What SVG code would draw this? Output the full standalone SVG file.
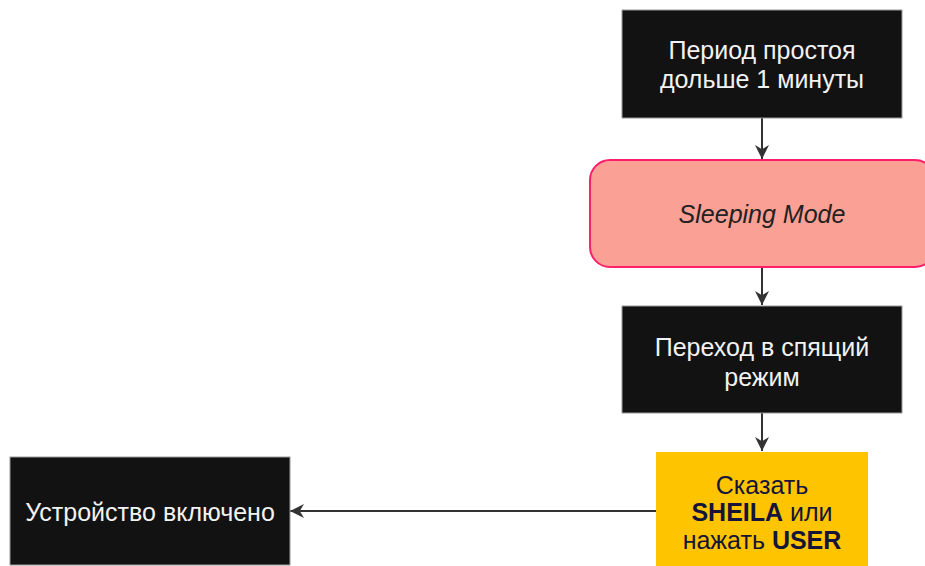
<svg xmlns="http://www.w3.org/2000/svg" width="925" height="566" viewBox="0 0 925 566">
<style>
.dark{fill:#121212;stroke:#9a9a9a;stroke-width:1}
.wt{fill:#f2f2f2;font-family:"Liberation Sans",Arial,sans-serif;font-size:25px;text-anchor:middle}
.yt{fill:#15153a;font-family:"Liberation Sans",Arial,sans-serif;font-size:25px;text-anchor:middle}
.edge{stroke:#333;stroke-width:2;fill:none;marker-end:url(#ah)}
</style>
<defs>
<marker id="ah" viewBox="0 0 10 10" refX="10" refY="5" markerWidth="14" markerHeight="14" markerUnits="userSpaceOnUse" orient="auto">
<path d="M0,0 L10,5 L0,10 L3,5 Z" fill="#333"/>
</marker>
</defs>
<rect width="925" height="566" fill="#fff"/>
<g id="connectors">
<path class="edge" d="M762,118 V159"/>
<path class="edge" d="M762,267 V305"/>
<path class="edge" d="M762,413 V451"/>
<path class="edge" d="M656,511 H290"/>
</g>
<g id="n1">
<rect class="dark" x="622" y="10" width="280" height="108"/>
<text class="wt" x="762" y="59">Период простоя</text>
<text class="wt" x="762" y="88">дольше 1 минуты</text>
</g>
<g id="n2">
<rect x="590" y="160" width="345" height="107" rx="20" fill="#fba095" stroke="#ff1f6b" stroke-width="2"/>
<text x="762" y="223" font-family="Liberation Sans,Arial,sans-serif" font-size="25" font-style="italic" fill="#222" text-anchor="middle">Sleeping Mode</text>
</g>
<g id="n3">
<rect class="dark" x="622" y="306" width="280" height="107"/>
<text class="wt" x="762" y="356">Переход в спящий</text>
<text class="wt" x="762" y="386">режим</text>
</g>
<g id="n4">
<rect x="656" y="452" width="212" height="116" fill="#ffc400"/>
<text class="yt" x="762" y="494">Сказать</text>
<text class="yt" x="762" y="521"><tspan font-weight="bold">SHEILA</tspan> или</text>
<text class="yt" x="762" y="549">нажать <tspan font-weight="bold">USER</tspan></text>
</g>
<g id="n5">
<rect class="dark" x="10" y="457" width="280" height="108"/>
<text class="wt" x="150" y="521">Устройство включено</text>
</g>
</svg>
